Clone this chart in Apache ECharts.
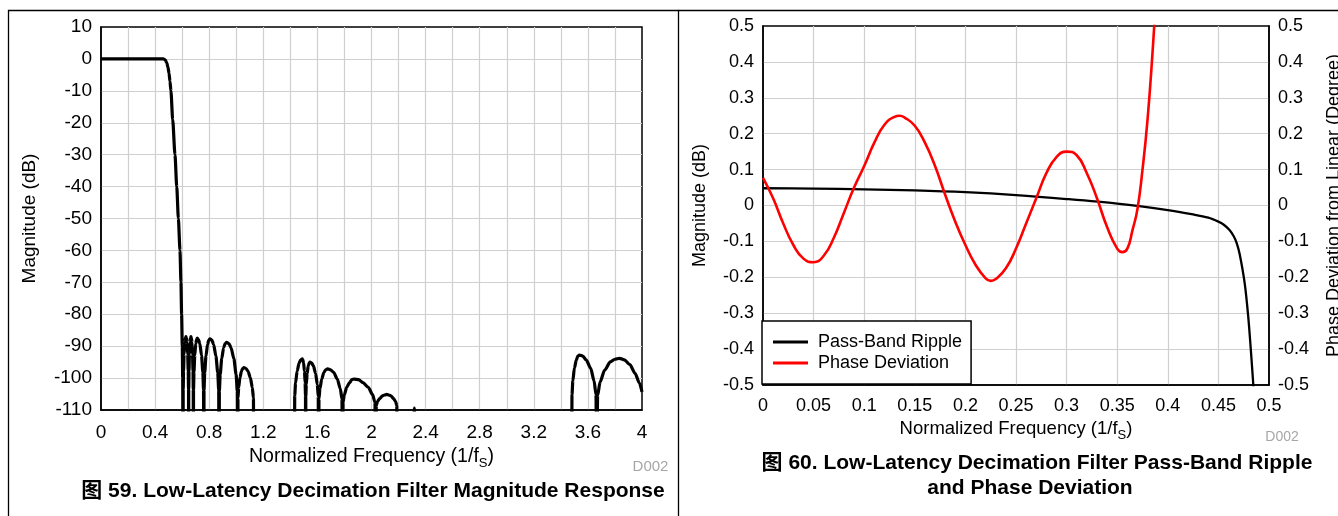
<!DOCTYPE html>
<html><head><meta charset="utf-8">
<script src="https://cdn.jsdelivr.net/npm/echarts@6/dist/echarts.min.js"></script>
<style>html,body{margin:0;padding:0;background:#fff;}#c{width:1338px;height:516px;}</style>
</head><body><div id="c"></div>
<script>
const FONT = '"Liberation Sans", Arial, Helvetica, "Noto Sans CJK SC", sans-serif';

// ---------- Figure 59: magnitude response ----------
const magXTicks = ['0','0.4','0.8','1.2','1.6','2','2.4','2.8','3.2','3.6','4'];
const passband = [[0,0],[0.46,0],[0.468,-0.1],[0.476,-0.4],[0.486,-1.2],[0.495,-2.6],[0.503,-4.5],[0.51,-7],[0.517,-10],[0.53,-19],[0.547,-30],[0.56,-40],[0.572,-50],[0.584,-60],[0.591,-70],[0.596,-80],[0.601,-90],[0.604,-100]];
const stopGroup1 = [
  [0.607,-140],[0.6078,-103.6],[0.6102,-97.8],[0.6144,-92.5],[0.6196,-88.8],[0.6238,-87.5],[0.628,-87],[0.632,-87.5],[0.636,-88.8],[0.641,-92.5],[0.645,-97.8],[0.6472,-103.6],[0.648,-140],
  [0.6487,-103.6],[0.6506,-97.8],[0.654,-92.5],[0.6582,-88.8],[0.6616,-87.5],[0.665,-87],[0.6686,-87.5],[0.6722,-88.8],[0.6767,-92.5],[0.6803,-97.8],[0.6823,-103.6],[0.683,-140],
  [0.6842,-103.7],[0.6874,-98.1],[0.6932,-92.9],[0.7004,-89.3],[0.7062,-88],[0.712,-87.5],[0.7216,-88],[0.7312,-89.3],[0.7432,-92.9],[0.7528,-98.1],[0.7581,-103.7],[0.76,-140],
  [0.7618,-103.8],[0.7669,-98.2],[0.7761,-93.1],[0.7876,-89.5],[0.7968,-88.1],[0.806,-87.7],[0.8194,-88.1],[0.8328,-89.5],[0.8496,-93.1],[0.863,-98.2],[0.8703,-103.8],[0.873,-140],
  [0.8752,-104.1],[0.8814,-98.8],[0.8926,-93.9],[0.9066,-90.5],[0.9178,-89.2],[0.929,-88.8],[0.9454,-89.2],[0.9618,-90.5],[0.9823,-93.9],[0.9987,-98.8],[1.0077,-104.1],[1.011,-140],
  [1.0128,-106.3],[1.0179,-103],[1.0271,-99.9],[1.0386,-97.8],[1.0478,-97],[1.057,-96.7],[1.0716,-97],[1.0862,-97.8],[1.1045,-99.9],[1.119,-103],[1.1271,-106.3],[1.13,-140]
];
const stopGroup2 = [
  [1.43,-140],[1.4323,-105.5],[1.4387,-101.5],[1.4503,-97.8],[1.4648,-95.3],[1.4764,-94.3],[1.488,-94],[1.493,-94.3],[1.498,-95.3],[1.5043,-97.8],[1.5093,-101.5],[1.512,-105.5],[1.513,-140],
  [1.5143,-105.8],[1.5178,-102],[1.5242,-98.6],[1.5322,-96.2],[1.5386,-95.3],[1.545,-95],[1.5578,-95.3],[1.5706,-96.2],[1.5866,-98.6],[1.5994,-102],[1.6064,-105.8],[1.609,-140],
  [1.6116,-106.5],[1.6189,-103.3],[1.6321,-100.3],[1.6486,-98.2],[1.6618,-97.4],[1.675,-97.1],[1.6972,-97.4],[1.7194,-98.2],[1.7471,-100.3],[1.7693,-103.3],[1.7816,-106.5],[1.786,-140],
  [1.7895,-107.6],[1.799,-105.2],[1.8165,-102.9],[1.8382,-101.4],[1.8556,-100.5],[1.873,-100.3],[1.9048,-100.5],[1.9366,-101.4],[1.9763,-102.9],[2.0081,-105.2],[2.0256,-107.6],[2.032,-140],
  [2.0352,-108.6],[2.0442,-107.4],[2.0604,-106.4],[2.0806,-105.6],[2.0968,-105.3],[2.113,-105.1],[2.1284,-105.3],[2.1438,-105.6],[2.163,-106.4],[2.1784,-107.4],[2.1869,-108.6],[2.19,-140],
  [2.305,-140],[2.317,-109.4],[2.329,-140]
];
const stopGroup3 = [
  [3.48,-140],[3.4823,-105.2],[3.4886,-100.9],[3.5,-96.9],[3.5142,-94.4],[3.5256,-93.1],[3.537,-92.8],[3.5626,-93.1],[3.5882,-94.4],[3.6202,-96.9],[3.6458,-100.9],[3.6599,-105.2],[3.665,-140],
  [3.6717,-105.5],[3.6902,-101.2],[3.7238,-97.5],[3.7658,-94.9],[3.7994,-94.1],[3.833,-93.8],[3.87,-94.3],[3.91,-95.8],[3.95,-98.6],[3.98,-101.5],[4.0,-104.3]
];

// ---------- Figure 60: pass-band ripple & phase deviation ----------
const rippleXTicks = ['0','0.05','0.1','0.15','0.2','0.25','0.3','0.35','0.4','0.45','0.5'];
const ripple = [[0,0.048],[0.05,0.047],[0.1,0.045],[0.15,0.042],[0.2,0.037],[0.25,0.029],[0.3,0.018],[0.35,0.005],[0.4,-0.013],[0.425,-0.025],[0.44,-0.034],[0.45,-0.045],[0.455,-0.053],[0.461,-0.068],[0.465,-0.085],[0.468,-0.104],[0.471,-0.135],[0.476,-0.217],[0.4795,-0.31],[0.482,-0.4],[0.4845,-0.5],[0.488,-0.65]];
const phase = [[0,0.077],[0.01,0.02],[0.02,-0.05],[0.03,-0.11],[0.04,-0.148],[0.05,-0.158],[0.06,-0.14],[0.07,-0.09],[0.08,-0.02],[0.09,0.05],[0.1,0.11],[0.11,0.175],[0.12,0.225],[0.13,0.247],[0.135,0.25],[0.14,0.245],[0.15,0.222],[0.16,0.175],[0.17,0.11],[0.18,0.03],[0.19,-0.045],[0.2,-0.11],[0.21,-0.165],[0.22,-0.203],[0.225,-0.21],[0.23,-0.205],[0.24,-0.175],[0.25,-0.12],[0.26,-0.05],[0.27,0.02],[0.28,0.09],[0.29,0.135],[0.3,0.15],[0.31,0.14],[0.32,0.09],[0.33,0.02],[0.34,-0.06],[0.35,-0.12],[0.355,-0.13],[0.36,-0.12],[0.365,-0.07],[0.37,-0.01],[0.375,0.1],[0.38,0.24],[0.385,0.43],[0.39,0.65]];

const chart = echarts.init(document.getElementById('c'), null, {renderer:'canvas'});
const gridLine = {show:true, showMinLine:false, showMaxLine:false, lineStyle:{color:'#cfcfcf', width:1.2}};
const blackLine = {show:true, onZero:false, lineStyle:{color:'#000', width:1.5}};
const subRich = {s:{fontSize:13, fontFamily:FONT, color:'#000', padding:[13,0,0,0], verticalAlign:'bottom'}};

chart.setOption({
  animation:false,
  textStyle:{fontFamily:FONT},
  grid:[
    {left:101, top:27, width:541, height:383, show:true, borderColor:'#000', borderWidth:1.5, backgroundColor:'transparent', containLabel:false, outerBoundsMode:'none'},
    {left:763, top:26, width:506, height:359, show:true, borderColor:'#000', borderWidth:1.5, backgroundColor:'transparent', containLabel:false, outerBoundsMode:'none'}
  ],
  legend:{
    orient:'vertical', left:762, top:321, data:['Pass-Band Ripple','Phase Deviation'],
    icon:'rect', itemWidth:35, itemHeight:3, itemGap:3, padding:[12,9,12,11],
    backgroundColor:'#fff', borderColor:'#000', borderWidth:1.5, borderRadius:0,
    textStyle:{fontSize:18, color:'#000', fontFamily:FONT, padding:[0,0,0,5]},
    selectedMode:false
  },
  xAxis:[
    {gridIndex:0, type:'value', min:0, max:4, interval:0.2,
     axisLine:blackLine, axisTick:{show:false}, splitLine:gridLine,
     axisLabel:{fontSize:19, color:'#000', margin:13, fontFamily:FONT, showMinLabel:true, showMaxLabel:true,
       formatter:function(v){const k=Math.round(v/0.2); return k%2===0 ? magXTicks[k/2] : '';}},
     name:'Normalized Frequency (1/f{s|S})', nameLocation:'middle', nameGap:33,
     nameTextStyle:{fontSize:19.5, color:'#000', fontFamily:FONT, rich:subRich}},
    {gridIndex:1, type:'value', min:0, max:0.5, interval:0.05,
     axisLine:blackLine, axisTick:{show:false}, splitLine:gridLine,
     axisLabel:{fontSize:18, color:'#000', margin:12, fontFamily:FONT, showMinLabel:true, showMaxLabel:true,
       formatter:function(v){return rippleXTicks[Math.round(v/0.05)];}},
     name:'Normalized Frequency (1/f{s|S})', nameLocation:'middle', nameGap:29,
     nameTextStyle:{fontSize:18.5, color:'#000', fontFamily:FONT, rich:subRich}}
  ],
  yAxis:[
    {gridIndex:0, type:'value', min:-110, max:10, interval:10,
     axisLine:blackLine, axisTick:{show:false}, splitLine:gridLine,
     axisLabel:{fontSize:19, color:'#000', margin:9, fontFamily:FONT},
     name:'Magnitude (dB)', nameLocation:'middle', nameRotate:90, nameGap:62,
     nameTextStyle:{fontSize:19, color:'#000', fontFamily:FONT}},
    {gridIndex:1, type:'value', min:-0.5, max:0.5, interval:0.1, position:'left',
     axisLine:blackLine, axisTick:{show:false}, splitLine:gridLine,
     axisLabel:{fontSize:18, color:'#000', margin:9, fontFamily:FONT},
     name:'Magnitude (dB)', nameLocation:'middle', nameRotate:90, nameGap:54,
     nameTextStyle:{fontSize:18, color:'#000', fontFamily:FONT}},
    {gridIndex:1, type:'value', min:-0.5, max:0.5, interval:0.1, position:'right',
     axisLine:blackLine, axisTick:{show:false}, splitLine:{show:false},
     axisLabel:{fontSize:18, color:'#000', margin:9, fontFamily:FONT},
     name:'Phase Deviation from Linear (Degree)', nameLocation:'middle', nameRotate:90, nameGap:56,
     nameTextStyle:{fontSize:18, color:'#000', fontFamily:FONT}}
  ],
  series:[
    {type:'line', xAxisIndex:0, yAxisIndex:0, data:passband.concat(stopGroup1, stopGroup2, stopGroup3),
     symbol:'none', smooth:0.25, smoothMonotone:'x', clip:true, silent:true,
     lineStyle:{color:'#000', width:3.2}},
    {name:'Pass-Band Ripple', type:'line', xAxisIndex:1, yAxisIndex:1, data:ripple,
     symbol:'none', smooth:0.3, clip:true, silent:true, itemStyle:{color:'#000'},
     lineStyle:{color:'#000', width:2.3}},
    {name:'Phase Deviation', type:'line', xAxisIndex:1, yAxisIndex:2, data:phase,
     symbol:'none', smooth:0.5, clip:true, silent:true, itemStyle:{color:'#ff0000'},
     lineStyle:{color:'#ff0000', width:2.6}}
  ],
  graphic:[
    {type:'rect', shape:{x:8.5, y:10.5, width:670, height:540}, style:{fill:'none', stroke:'#000', lineWidth:1.3}, silent:true},
    {type:'line', shape:{x1:678.5, y1:10.5, x2:1338, y2:10.5}, style:{stroke:'#000', lineWidth:1.3}, silent:true},
    {type:'text', x:650.5, y:466.5, silent:true, style:{text:'D002', fill:'#a6a6a6', font:'15px '+FONT, align:'center', verticalAlign:'middle'}},
    {type:'text', x:1282, y:437, silent:true, style:{text:'D002', fill:'#a6a6a6', font:'14px '+FONT, align:'center', verticalAlign:'middle'}},
    {type:'text', x:373, y:491, silent:true, style:{text:'图 59. Low-Latency Decimation Filter Magnitude Response', fill:'#000', font:'bold 21px '+FONT, align:'center', verticalAlign:'middle'}},
    {type:'text', x:1037, y:463, silent:true, style:{text:'图 60. Low-Latency Decimation Filter Pass-Band Ripple', fill:'#000', font:'bold 21px '+FONT, align:'center', verticalAlign:'middle'}},
    {type:'text', x:1030, y:488, silent:true, style:{text:'and Phase Deviation', fill:'#000', font:'bold 21px '+FONT, align:'center', verticalAlign:'middle'}}
  ]
});
</script></body></html>
